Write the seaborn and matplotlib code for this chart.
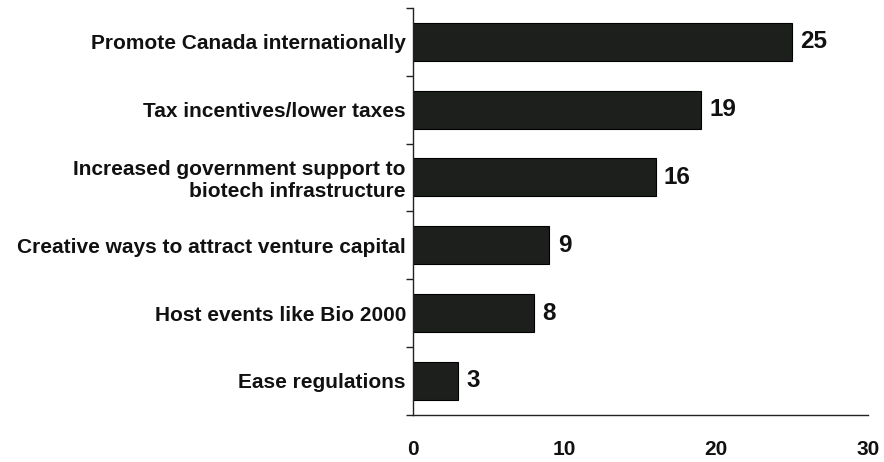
import numpy as np
import pandas as pd
import seaborn as sns
import matplotlib.pyplot as plt
from matplotlib.ticker import FixedLocator

# data
categories = [
    'Promote Canada internationally',
    'Tax incentives/lower taxes',
    'Increased government support to\nbiotech infrastructure',
    'Creative ways to attract venture capital',
    'Host events like Bio 2000',
    'Ease regulations',
]
values = [25, 19, 16, 9, 8, 3]

df = pd.DataFrame({'category': categories, 'value': values})

sns.set_style('white')
plt.rcParams['font.family'] = ['Liberation Sans', 'DejaVu Sans']
plt.rcParams['font.weight'] = 'bold'

fig = plt.figure(figsize=(8.84, 4.62), dpi=100)
ax = fig.add_axes([0.467, 0.102, 0.515, 0.881])

sns.barplot(data=df, y='category', x='value', color='#1c1f1c',
            edgecolor='black', linewidth=0.8, width=0.56, ax=ax, saturation=1)

for i, v in enumerate(values):
    ax.text(v + 0.55, i, str(v), va='center', ha='left',
            fontsize=17.5, fontweight='bold', color='#111111')

ax.set_xlim(0, 30)
ax.set_ylim(len(categories) - 0.5, -0.5)
ax.set_xticks([0, 10, 20, 30])
ax.set_xlabel('')
ax.set_ylabel('')

for s in ['top', 'right']:
    ax.spines[s].set_visible(False)
for s in ['left', 'bottom']:
    ax.spines[s].set_color('#222222')
    ax.spines[s].set_linewidth(1.0)

ax.tick_params(axis='x', direction='in', length=6, width=1, pad=18,
               labelsize=15, colors='#111111')
ax.tick_params(axis='y', which='major', length=0, pad=5, labelsize=15,
               colors='#111111')
ax.yaxis.set_minor_locator(FixedLocator(np.arange(-0.5, len(categories), 1)))
ax.tick_params(axis='y', which='minor', direction='out', length=5, width=1,
               color='#222222', left=True)
for lbl in ax.get_xticklabels() + ax.get_yticklabels():
    lbl.set_fontweight('bold')
for lbl in ax.get_yticklabels():
    lbl.set_horizontalalignment('right')
    lbl.set_multialignment('right')

fig.savefig('out.png', dpi=100, facecolor='white')
